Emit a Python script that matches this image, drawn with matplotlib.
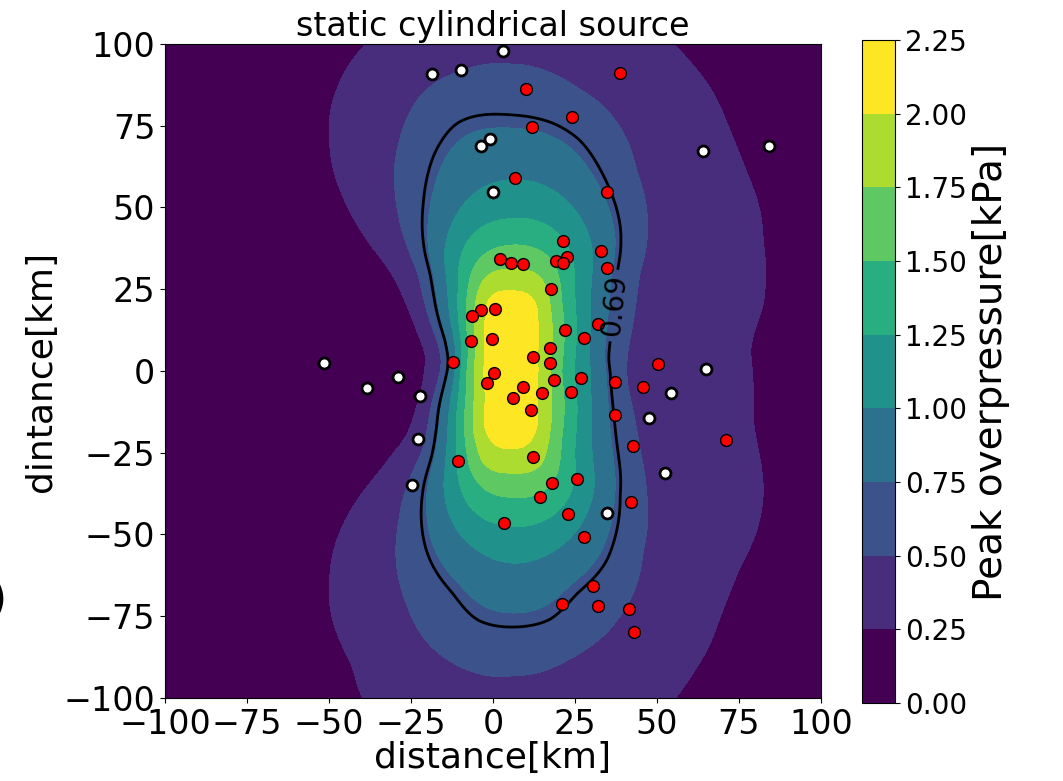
import numpy as np
import matplotlib
matplotlib.use("Agg")
import matplotlib.pyplot as plt


# Peak overpressure field, sampled where each level crosses the map (x, y in km)
iso_200 = [(5.3, 24.2), (-1.0, 22.5), (12.0, 22.5), (-2.4, 19.6), (13.7, 19.6),
           (-3.0, 10.0), (14.0, 10.0), (-3.0, 0.0), (14.0, 0.0), (-2.6, -12.0),
           (13.8, -12.0), (-2.8, -17.0), (13.7, -17.0), (-0.5, -21.5),
           (11.5, -21.5), (5.5, -23.5)]
iso_175 = [(5.5, 30.9), (-3.0, 28.0), (15.0, 28.0), (-5.5, 19.6), (17.4, 19.6),
           (-5.8, 0.0), (17.5, 0.0), (-6.1, -17.0), (17.4, -17.0),
           (-3.0, -28.5), (15.0, -28.5), (5.5, -31.0)]
iso_150 = [(5.5, 38.5), (-5.0, 33.0), (18.5, 33.0), (-8.0, 20.0), (21.0, 20.0),
           (-8.0, 0.0), (21.0, 0.0), (-8.5, -20.0), (21.0, -20.0),
           (-5.0, -33.5), (18.5, -33.5), (5.5, -38.5)]
iso_125 = [(5.5, 46.5), (-7.5, 40.0), (21.5, 40.0), (-10.5, 25.0), (24.8, 25.0),
           (-10.0, 0.0), (24.5, 0.0), (-11.0, -25.0), (24.8, -25.0),
           (-7.5, -41.0), (21.5, -41.0), (5.5, -47.5)]
iso_100 = [(6.0, 58.5), (-15.0, 35.0), (30.5, 35.0), (-11.8, 0.0), (30.0, 0.0),
           (-15.0, -35.0), (31.0, -35.0), (5.2, -58.7)]
iso_075 = [(5.5, 74.3), (-19.8, 40.0), (37.6, 40.0), (-13.0, 0.0), (34.5, 0.0),
           (-20.2, -37.0), (37.5, -37.0), (5.8, -74.0)]
iso_069 = [(5.2, 78.3), (-11.0, 75.8), (-18.3, 65.4), (-21.3, 50.2),
           (-19.2, 30.0), (-14.6, 9.5), (-13.4, 3.4), (-17.1, -17.0),
           (-21.3, -37.3), (-19.2, -57.8), (-12.2, -67.9), (-4.9, -76.1),
           (6.1, -78.3), (17.4, -76.1), (25.6, -67.9), (34.8, -57.8),
           (38.4, -37.3), (37.2, -17.0), (35.1, 3.4), (37.8, 30.0),
           (38.7, 40.0), (35.7, 55.4), (26.5, 70.6), (18.3, 75.8)]
iso_050 = [(5.2, 93.6), (-16.2, 89.0), (-24.4, 80.7), (-28.4, 70.6),
           (-29.3, 50.2), (-22.9, 30.0), (-17.1, 9.5), (-16.8, -3.7),
           (-21.3, -24.2), (-28.4, -44.6), (-28.4, -64.8), (-22.3, -80.0),
           (-10.0, -90.5), (6.1, -93.0), (22.6, -88.4), (34.8, -80.1),
           (41.8, -70.0), (45.8, -54.7), (47.0, -39.4), (44.8, -24.2),
           (40.8, -3.7), (42.7, 14.7), (44.8, 30.0), (47.0, 45.3),
           (43.9, 60.6), (37.8, 75.8), (26.5, 86.0)]
iso_025 = [(-39.6, 99.0), (-47.6, 86.0), (-49.7, 70.6), (-46.6, 55.4),
           (-38.4, 40.0), (-28.4, 24.8), (-22.3, 9.5), (-21.3, 0.0),
           (-29.9, -24.2), (-44.5, -44.6), (-49.7, -64.8), (-47.6, -80.0),
           (-42.7, -90.5), (-40.0, -99.7), (56.0, -99.7), (62.2, -90.5),
           (69.2, -75.2), (75.3, -60.0), (81.4, -44.6), (82.3, -34.3),
           (79.3, -14.0), (78.4, 6.4), (82.3, 19.6), (82.3, 40.0),
           (77.4, 60.6), (71.3, 75.8), (63.0, 91.0), (56.0, 99.0)]
iso_sets = [(2.0, iso_200), (1.75, iso_175), (1.5, iso_150), (1.25, iso_125),
            (1.0, iso_100), (0.75, iso_075), (0.69, iso_069), (0.5, iso_050),
            (0.25, iso_025)]

# point values inside the peak, across the 0.25-0.5 band and at the map edges
# (x, y, kPa)
peak_pts = [(5.5, 0.0, 2.2), (5.5, 12.0, 2.17), (5.5, -12.0, 2.17)]
band_pts = [(60, 0, 0.37), (64, 40, 0.38), (64, -40, 0.38), (55, 75, 0.37),
            (54, -75, 0.37), (45, 90, 0.37), (42, -88, 0.37), (-39, 70, 0.37),
            (-39, -65, 0.37), (-32, 40, 0.37), (-34, -40, 0.37),
            (-28, 95, 0.37), (-28, -93, 0.37)]
edge_pts = [(-100, 100, 0.05), (-100, 50, 0.05), (-100, 0, 0.02),
            (-100, -50, 0.05), (-100, -100, 0.05), (-75, 0, 0.05),
            (-75, 75, 0.15), (-75, -75, 0.15), (100, 100, 0.12),
            (100, 50, 0.17), (100, 0, 0.17), (100, -50, 0.17),
            (100, -100, 0.12), (5, 100, 0.46), (5, -100, 0.45),
            (-20, 100, 0.35), (-20, -100, 0.35), (30, 100, 0.38),
            (30, -100, 0.38)]

# stations
red_x = [38.7, 10.1, 24.2, 12.0, 6.8, 34.8, 21.3, 32.8, 22.7, 19.1, 21.4, 34.7,
         2.1, 5.6, 9.2, 17.8, -3.75, 0.6, -6.5, -6.8, -0.3, 22.0, 27.7, 31.9,
         -12.1, 17.4, 12.3, 17.4, 0.3, -1.9, 9.2, 6.1, 14.8, 18.6, 26.9, 23.8,
         11.7, 37.2, 45.8, 37.2, 42.6, -10.6, 12.3, 25.7, 17.9, 14.2, 23.0,
         42.1, 3.4, 27.8, 30.6, 21.0, 31.9, 41.5, 43.1, 71.2, 50.4]
red_y = [91.0, 86.2, 77.6, 74.7, 58.9, 54.8, 39.7, 36.6, 34.8, 33.7, 33.1, 31.5,
         34.2, 33.1, 32.8, 25.1, 18.7, 19.0, 16.7, 9.3, 9.7, 12.6, 10.2, 14.3,
         2.8, 7.0, 4.3, 2.3, -0.7, -3.8, -5.0, -8.2, -6.8, -2.8, -2.2, -6.5,
         -11.9, -3.3, -4.8, -13.5, -22.8, -27.4, -26.2, -33.0, -34.3, -38.6,
         -43.6, -40.0, -46.4, -50.8, -65.7, -71.3, -71.9, -72.8, -79.7, -21.2,
         2.1]
white_x = [3.1, -18.6, -9.8, -51.4, -38.5, -28.9, -22.3, -23.0, -24.8, -3.75,
           -0.9, -0.1, 64.0, 84.2, 64.9, 54.2, 47.7, 52.4, 34.7]
white_y = [97.7, 90.8, 92.0, 2.4, -5.3, -1.7, -7.5, -20.9, -34.9, 68.8, 71.0,
           54.8, 67.4, 68.8, 0.5, -6.6, -14.5, -31.3, -43.5]

levels = np.arange(0, 2.26, 0.25)
ticks = np.arange(-100, 101, 25)


def tps_kernel(r):
    with np.errstate(divide='ignore', invalid='ignore'):
        k = r * r * np.log(r)
    return np.nan_to_num(k)


def build_field(gx, gy, smooth=1.5e-3):
    """Smoothing thin-plate spline through the sampled overpressure values."""
    pts = list(peak_pts) + list(band_pts) + list(edge_pts)
    for value, line in iso_sets:
        pts += [(x, y, value) for x, y in line]
    pts = np.array(pts, dtype=float)
    xs, ys, vs = pts[:, 0] / 100, pts[:, 1] / 100, pts[:, 2]
    n = len(xs)

    r = np.hypot(xs[:, None] - xs[None, :], ys[:, None] - ys[None, :])
    a = np.zeros((n + 3, n + 3))
    a[:n, :n] = tps_kernel(r) + smooth * np.eye(n)
    poly = np.column_stack([np.ones(n), xs, ys])
    a[:n, n:] = poly
    a[n:, :n] = poly.T
    coef = np.linalg.solve(a, np.concatenate([vs, np.zeros(3)]))
    w, c = coef[:n], coef[n:]

    z = np.empty_like(gx)
    for i in range(gx.shape[0]):
        rx = gx[i] / 100
        ry = gy[i] / 100
        rr = np.hypot(rx[:, None] - xs[None, :], ry[:, None] - ys[None, :])
        z[i] = tps_kernel(rr) @ w + c[0] + c[1] * rx + c[2] * ry
    return np.clip(z, 0.001, 2.249)


def main():
    grid = np.linspace(-100, 100, 401)
    gx, gy = np.meshgrid(grid, grid)
    field = build_field(gx, gy)

    fig = plt.figure(figsize=(10.63, 7.81), dpi=100)
    ax = fig.add_axes([0.1552, 0.1063, 0.6171, 0.8374])
    cax = fig.add_axes([0.8109, 0.0999, 0.0310, 0.8489])

    cf = ax.contourf(gx, gy, field, levels=levels, cmap='viridis',
                     vmin=0.125, vmax=2.125)
    cs = ax.contour(gx, gy, field, levels=[0.69], colors='k', linewidths=2)
    ax.clabel(cs, fmt='%.2f', fontsize=20, manual=[(37, 20)])

    ax.scatter(red_x, red_y, s=72, c='red', edgecolors='k', linewidths=1,
               zorder=3)
    ax.scatter(white_x, white_y, s=62, c='white', edgecolors='k',
               linewidths=2, zorder=3)

    ax.set_xlim(-100, 100)
    ax.set_ylim(-100, 100)
    ax.set_xticks(ticks)
    ax.set_yticks(ticks)
    ax.tick_params(labelsize=24)
    ax.set_title('static cylindrical source', fontsize=24)
    ax.set_xlabel('distance[km]', fontsize=26, labelpad=0)
    ax.set_ylabel('dintance[km]', fontsize=26)

    cb = fig.colorbar(cf, cax=cax, ticks=levels)
    cb.ax.set_yticklabels(['%.2f' % v for v in levels])
    cb.ax.tick_params(labelsize=20)
    cb.set_label('Peak overpressure[kPa]', fontsize=28)

    fig.text(-0.002, 0.232, ')', fontsize=34, ha='center', va='center')

    fig.savefig('out.png', dpi=100)


if __name__ == "__main__":
    main()
